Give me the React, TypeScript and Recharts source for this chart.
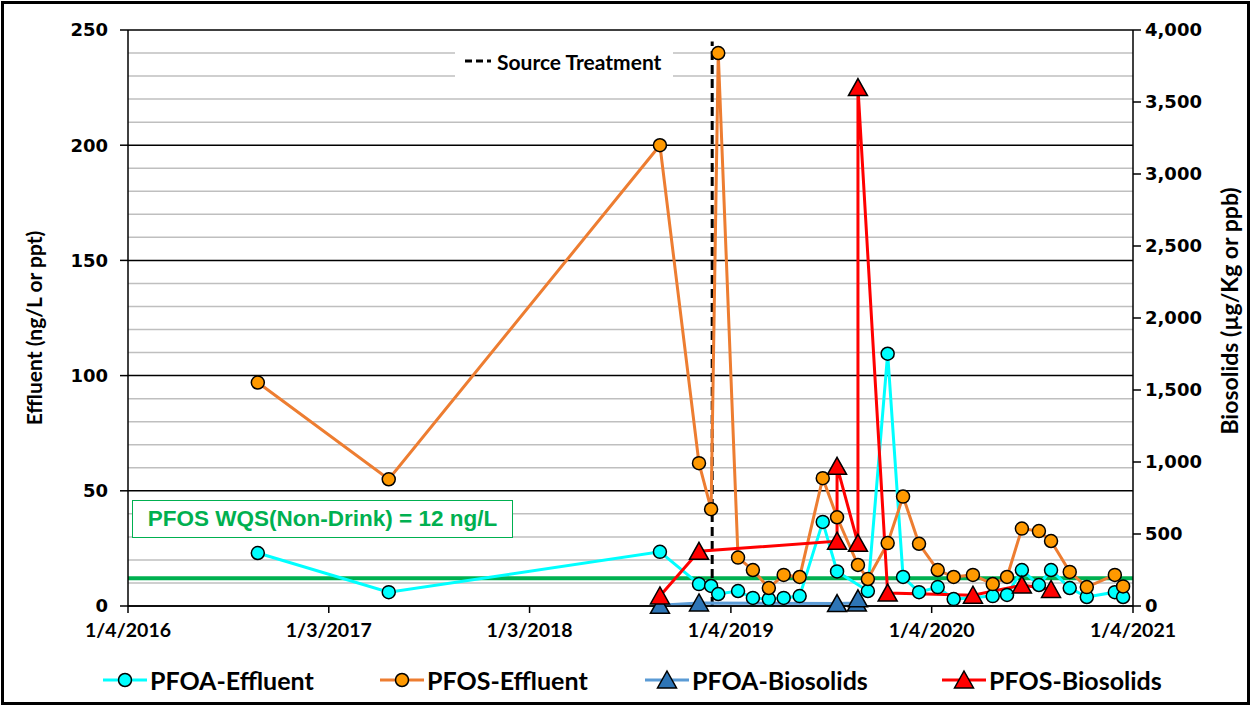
import React from "react";
import {
  LineChart,
  Line,
  XAxis,
  YAxis,
  CartesianGrid,
  ReferenceLine,
  Legend,
} from "recharts";

// dates are m/d/y in the original, stored here as ISO strings
const startDate = "2016-01-04";
const axisTickDates = ["2016-01-04", "2017-01-03", "2018-01-03", "2019-01-04", "2020-01-04", "2021-01-04"];
const axisTickLabels = ["1/4/2016", "1/3/2017", "1/3/2018", "1/4/2019", "1/4/2020", "1/4/2021"];
const sourceTreatmentDate = "2018-12-01";
const wqsLimit = 12;

const effluentTicks = [0, 50, 100, 150, 200, 250];
const minorGridTicks = [10, 20, 30, 40, 60, 70, 80, 90, 110, 120, 130, 140, 160, 170, 180, 190, 210, 220, 230, 240];
const biosolidsTicks = [0, 500, 1000, 1500, 2000, 2500, 3000, 3500, 4000];

const pfoaEffluentDates = [
  "2016-08-27", "2017-04-22", "2018-08-28", "2018-11-07", "2018-11-29", "2018-12-12", "2019-01-17",
  "2019-02-13", "2019-03-14", "2019-04-10", "2019-05-09", "2019-06-20", "2019-07-16", "2019-09-10",
  "2019-10-16", "2019-11-13", "2019-12-12", "2020-01-15", "2020-02-13", "2020-04-24", "2020-05-20",
  "2020-06-16", "2020-07-17", "2020-08-08", "2020-09-11", "2020-10-12", "2020-12-02", "2020-12-17",
];
const pfoaEffluentValues = [
  23, 6, 23.5, 9.5, 8.7, 5.2, 6.5, 3.5, 3, 3.5, 4.3, 36.5, 15, 6.5, 109.5, 12.6, 6, 8.2, 3, 4.3, 4.8,
  15.6, 9.1, 15.6, 7.8, 3.9, 6, 3.9,
];

const pfosEffluentDates = [
  "2016-08-27", "2017-04-22", "2018-08-28", "2018-11-07", "2018-11-29", "2018-12-12", "2019-01-17",
  "2019-02-13", "2019-03-14", "2019-04-10", "2019-05-09", "2019-06-20", "2019-07-16", "2019-08-23",
  "2019-09-10", "2019-10-16", "2019-11-13", "2019-12-12", "2020-01-15", "2020-02-13", "2020-03-19",
  "2020-04-24", "2020-05-20", "2020-06-16", "2020-07-17", "2020-08-08", "2020-09-11", "2020-10-12",
  "2020-12-02", "2020-12-17",
];
const pfosEffluentValues = [
  97, 55, 200, 62, 42, 240, 21, 15.6, 7.8, 13.5, 12.6, 55.5, 38.5, 17.8, 11.7, 27.3, 47.5, 27, 15.6,
  12.6, 13.5, 9.5, 12.6, 33.6, 32.5, 28.2, 14.8, 8.2, 13.5, 8.5,
];

const pfoaBiosolidsDates = ["2018-08-28", "2018-11-07", "2019-07-16", "2019-08-21", "2019-08-23"];
const pfoaBiosolidsValues = [5, 21, 17, 20, 50];

const pfosBiosolidsDates = [
  "2018-08-28", "2018-11-07", "2019-07-16", "2019-07-16", "2019-08-23", "2019-08-23", "2019-10-16",
  "2020-03-19", "2020-06-16", "2020-08-08",
];
const pfosBiosolidsValues = [70, 380, 450, 970, 435, 3600, 90, 75, 145, 115];

const toDay = (s: string) => Math.round((Date.parse(s) - Date.parse(startDate)) / 86400000);
const toSeries = (dates: string[], values: number[]) =>
  dates.map((d, i) => ({ day: toDay(d), value: values[i] }));

const pfoaEffluent = toSeries(pfoaEffluentDates, pfoaEffluentValues);
const pfosEffluent = toSeries(pfosEffluentDates, pfosEffluentValues);
const pfoaBiosolids = toSeries(pfoaBiosolidsDates, pfoaBiosolidsValues);
const pfosBiosolids = toSeries(pfosBiosolidsDates, pfosBiosolidsValues);
const tickDays = axisTickDates.map(toDay);
const sourceDay = toDay(sourceTreatmentDate);

const labelFont = "Lato, 'DejaVu Sans', sans-serif";
const numFont = "'DejaVu Sans', sans-serif";

// minor gridlines go through the left axis scale
const minorGridLines = ({ yAxis }: any) => {
  const s = yAxis && yAxis.scale;
  if (typeof s === "function") return minorGridTicks.map((v) => s(v));
  if (s && typeof s.map === "function") return minorGridTicks.map((v) => s.map(v));
  return [];
};

const triangle = (fill: string) => (props: any) => {
  const { cx, cy, index } = props;
  if (cx == null || cy == null) return <g key={`e${index}`} />;
  return (
    <path
      key={`t${index}`}
      d={`M${cx},${cy - 9}L${cx + 9.5},${cy + 8}L${cx - 9.5},${cy + 8}Z`}
      fill={fill}
      stroke="#000"
      strokeWidth={1.5}
    />
  );
};

const legendItems = [
  { name: "PFOA-Effluent", line: "#00FFFF", fill: "#00FFFF", shape: "circle" },
  { name: "PFOS-Effluent", line: "#ED7D31", fill: "#FF9900", shape: "circle" },
  { name: "PFOA-Biosolids", line: "#5B9BD5", fill: "#2E75B6", shape: "triangle" },
  { name: "PFOS-Biosolids", line: "#FF0000", fill: "#FF0000", shape: "triangle" },
];
const legendLeft = [103, 380, 645, 942];

const renderLegend = () => (
  <div style={{ position: "relative", width: 1251, height: 50 }}>
    {legendItems.map((it, i) => (
      <div
        key={it.name}
        style={{ position: "absolute", left: legendLeft[i], top: 11, display: "flex", alignItems: "center" }}
      >
        <svg width={44} height={24}>
          <line x1={0} y1={12} x2={44} y2={12} stroke={it.line} strokeWidth={3} />
          {it.shape === "circle" ? (
            <circle cx={22} cy={12} r={6.5} fill={it.fill} stroke="#000" strokeWidth={1.5} />
          ) : (
            <path d="M22,3L31.5,20L12.5,20Z" fill={it.fill} stroke="#000" strokeWidth={1.5} />
          )}
        </svg>
        <span
          style={{
            marginLeft: 3,
            fontFamily: labelFont,
            fontWeight: 700,
            fontSize: 25,
            color: "#000",
            lineHeight: "26px",
          }}
        >
          {it.name}
        </span>
      </div>
    ))}
  </div>
);

const axisTitle = (value: string, x: number, y: number, size: number) => () => (
  <text
    x={x}
    y={y}
    transform={`rotate(-90 ${x} ${y})`}
    textAnchor="middle"
    dominantBaseline="central"
    fontFamily={labelFont}
    fontWeight={700}
    fontSize={size}
    fill="#000"
  >
    {value}
  </text>
);

const axisLine = { stroke: "#000", strokeWidth: 1.5 };

export default function App() {
  return (
    <div style={{ position: "fixed", left: 0, top: 0, width: 1251, height: 706, background: "#fff" }}>
      <LineChart width={1251} height={706} margin={{ top: 30, right: 0, bottom: 0, left: 0 }}>
        <CartesianGrid
          yAxisId="left"
          vertical={false}
          stroke="#BFBFBF"
          strokeWidth={1.5}
          horizontalValues={minorGridTicks}
          horizontalCoordinatesGenerator={minorGridLines}
        />
        <CartesianGrid yAxisId="left" vertical={false} stroke="#000" strokeWidth={1.5} />
        <XAxis
          dataKey="day"
          type="number"
          domain={[tickDays[0], tickDays[tickDays.length - 1]]}
          ticks={tickDays}
          allowDataOverflow
          height={50}
          tickSize={7}
          tickMargin={10}
          tickFormatter={(d: number) => axisTickLabels[tickDays.indexOf(d)] ?? ""}
          tick={{ fill: "#000", fontSize: 19.5, fontWeight: 700, fontFamily: labelFont }}
          axisLine={axisLine}
          tickLine={axisLine}
        />
        <YAxis
          yAxisId="left"
          width={128}
          domain={[0, 250]}
          ticks={effluentTicks}
          tickSize={8}
          tickMargin={12}
          tick={{ fill: "#000", fontSize: 18, fontWeight: 700, fontFamily: numFont }}
          axisLine={axisLine}
          tickLine={axisLine}
          label={axisTitle("Effluent (ng/L or ppt)", 33, 328, 21)}
        />
        <YAxis
          yAxisId="right"
          orientation="right"
          width={118}
          domain={[0, 4000]}
          ticks={biosolidsTicks}
          tickSize={8}
          tickMargin={4}
          tickFormatter={(v: number) => v.toLocaleString("en-US")}
          tick={{ fill: "#000", fontSize: 18, fontWeight: 700, fontFamily: numFont }}
          axisLine={axisLine}
          tickLine={axisLine}
          label={axisTitle("Biosolids (µg/Kg or ppb)", 1229, 311, 23)}
        />
        <ReferenceLine yAxisId="left" y={wqsLimit} stroke="#00B050" strokeWidth={4} />
        <ReferenceLine
          yAxisId="left"
          segment={[
            { x: sourceDay, y: 0 },
            { x: sourceDay, y: 245 },
          ]}
          stroke="#000"
          strokeWidth={3}
          strokeDasharray="9 5"
        />
        <Line
          yAxisId="left"
          data={pfoaEffluent}
          dataKey="value"
          name="PFOA-Effluent"
          type="linear"
          stroke="#00FFFF"
          strokeWidth={3}
          dot={{ r: 6.5, fill: "#00FFFF", stroke: "#000", strokeWidth: 1.5 }}
          isAnimationActive={false}
        />
        <Line
          yAxisId="left"
          data={pfosEffluent}
          dataKey="value"
          name="PFOS-Effluent"
          type="linear"
          stroke="#ED7D31"
          strokeWidth={3}
          dot={{ r: 6.5, fill: "#FF9900", stroke: "#000", strokeWidth: 1.5 }}
          isAnimationActive={false}
        />
        <Line
          yAxisId="right"
          data={pfoaBiosolids}
          dataKey="value"
          name="PFOA-Biosolids"
          type="linear"
          stroke="#5B9BD5"
          strokeWidth={3}
          dot={triangle("#2E75B6")}
          isAnimationActive={false}
        />
        <Line
          yAxisId="right"
          data={pfosBiosolids}
          dataKey="value"
          name="PFOS-Biosolids"
          type="linear"
          stroke="#FF0000"
          strokeWidth={3}
          dot={triangle("#FF0000")}
          isAnimationActive={false}
        />
        <Legend verticalAlign="bottom" content={renderLegend} wrapperStyle={{ left: 0, bottom: 0 }} />
      </LineChart>

      {/* Source Treatment key */}
      <div
        style={{
          position: "absolute",
          left: 455,
          top: 43,
          width: 218,
          height: 36,
          background: "#fff",
          display: "flex",
          alignItems: "center",
        }}
      >
        <svg width={32} height={10} style={{ marginLeft: 8 }}>
          <line x1={2} y1={5} x2={28} y2={5} stroke="#000" strokeWidth={3} strokeDasharray="7 4" />
        </svg>
        <span style={{ marginLeft: 2, fontFamily: labelFont, fontWeight: 700, fontSize: 21, color: "#000" }}>
          Source Treatment
        </span>
      </div>

      {/* water quality standard box */}
      <div
        style={{
          position: "absolute",
          left: 132,
          top: 500,
          width: 381,
          height: 38,
          boxSizing: "border-box",
          border: "1.5px solid #00B050",
          background: "#fff",
          display: "flex",
          alignItems: "center",
          justifyContent: "center",
          fontFamily: "'Liberation Sans', Arial, sans-serif",
          fontWeight: 700,
          fontSize: 22.5,
          color: "#00B050",
        }}
      >
        PFOS WQS(Non-Drink) = 12 ng/L
      </div>

      <div
        style={{
          position: "absolute",
          left: 1,
          top: 1,
          width: 1249,
          height: 704,
          boxSizing: "border-box",
          border: "3px solid #000",
          pointerEvents: "none",
        }}
      />
    </div>
  );
}
